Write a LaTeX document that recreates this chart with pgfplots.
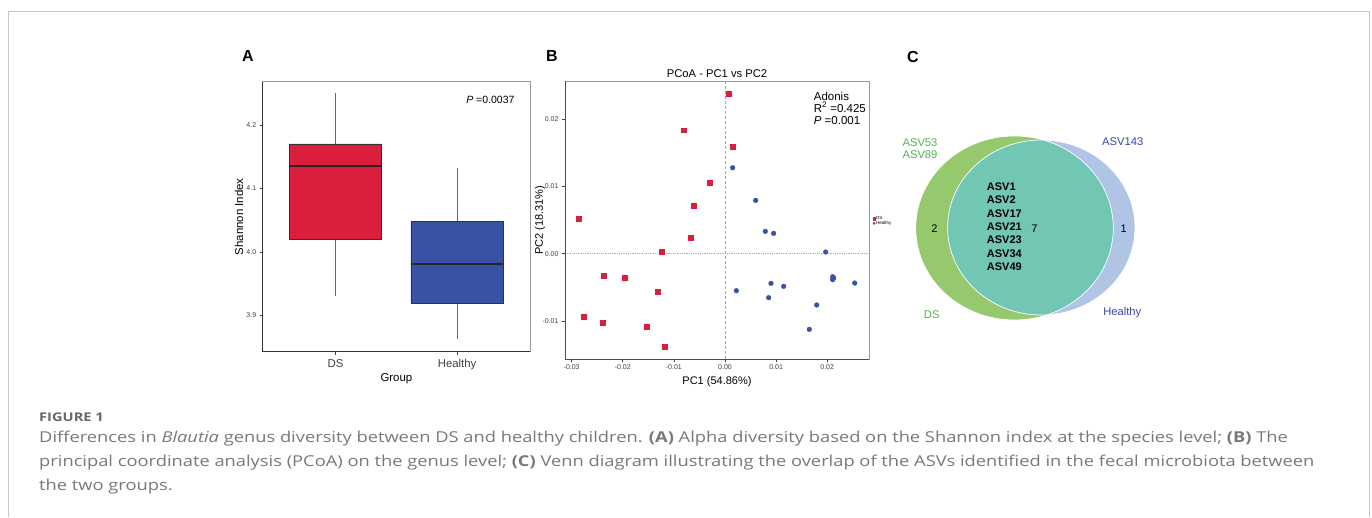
\documentclass[border=0pt]{standalone}
\usepackage{fontspec}
\setmainfont{Liberation Sans}
\newfontfamily\capfont[FakeStretch=1.22]{Open Sans}
\usepackage{pgfplots}
\pgfplotsset{compat=1.18}

\definecolor{dsred}{RGB}{220,30,61}
\definecolor{hblue}{RGB}{56,82,164}
\definecolor{vgreen}{RGB}{150,201,110}
\definecolor{vblue}{RGB}{176,196,230}
\definecolor{vteal}{RGB}{114,198,180}
\definecolor{tgreen}{RGB}{76,184,72}
\definecolor{tblue}{RGB}{55,72,160}
\definecolor{capgray}{RGB}{120,120,120}

\newcommand{\fs}[1]{\fontsize{#1}{#1}\selectfont}

\pgfplotsset{
  panel/.style={
    scale only axis, anchor=south west,
    axis line style={black!40, line width=0.7pt},
    tick align=outside, major tick length=3pt,
    tick style={black!75, line width=0.6pt},
    xtick pos=bottom, ytick pos=left,
    scaled ticks=false,
    /pgf/number format/assume math mode=true,
    ticklabel style={text=black!75},
    clip=false,
  },
  tinymark/.style={legend image code/.code={\draw[##1, mark size=1.2pt] plot coordinates {(0.05cm,0cm)};}},
  whisk/.style={black!60, line width=0.8pt},
  boxs/.style={draw=black!80, line width=0.8pt},
  med/.style={black!85, line width=1.6pt},
}

\begin{document}
\begin{tikzpicture}[x=1pt,y=1pt]
\path[use as bounding box] (0,0) rectangle (1372,517);
\draw[black!22, line width=1pt] (8,0) -- (8,505) -- (1369,505) -- (1369,0);

% panel letters
\node[font=\bfseries\fs{16}] at (248,461) {A};
\node[font=\bfseries\fs{16}] at (552,461) {B};
\node[font=\bfseries\fs{16}] at (913,460) {C};

% ---------- A: Shannon index boxplot
\begin{axis}[panel,
  at={(262.7pt,165.3pt)}, width=267.3pt, height=270pt,
  xmin=0.4, xmax=2.6, ymin=3.843, ymax=4.268,
  xtick={1,2}, xticklabels={DS,Healthy},
  ytick={3.9,4.0,4.1,4.2},
  yticklabel style={font=\fs{7}, /pgf/number format/fixed, /pgf/number format/fixed zerofill, /pgf/number format/precision=1},
  xticklabel style={font=\fs{11.4}, yshift=-1pt},
  xlabel={Group}, ylabel={Shannon Index},
  label style={font=\fs{11.4}},
  xlabel style={at={(axis description cs:0.5,-0.101)}, anchor=center},
  ylabel style={at={(axis description cs:-0.0887,0.5)}, anchor=center},
]
% DS: whiskers, box, median
\addplot[whisk] coordinates {(1,4.17) (1,4.25)};
\addplot[whisk] coordinates {(1,3.931) (1,4.019)};
\addplot[boxs, fill=dsred] coordinates {(0.62,4.019) (1.38,4.019) (1.38,4.17) (0.62,4.17) (0.62,4.019)};
\addplot[med] coordinates {(0.62,4.135) (1.38,4.135)};
% Healthy
\addplot[whisk] coordinates {(2,4.048) (2,4.132)};
\addplot[whisk] coordinates {(2,3.863) (2,3.919)};
\addplot[boxs, fill=hblue] coordinates {(1.62,3.919) (2.38,3.919) (2.38,4.048) (1.62,4.048) (1.62,3.919)};
\addplot[med] coordinates {(1.62,3.981) (2.38,3.981)};
\draw[black!80, line width=0.7pt] (rel axis cs:0,1) -- (rel axis cs:0,0) -- (rel axis cs:1,0);
\node[anchor=east, font=\fs{10.5}] at (rel axis cs:0.955,0.933) {\textit{P} =0.0037};
\end{axis}

% ---------- B: PCoA
\begin{axis}[panel,
  at={(565pt,157.7pt)}, width=304pt, height=278.3pt,
  xmin=-0.0313, xmax=0.02818, ymin=-0.01569, ymax=0.02566,
  xtick={-0.03,-0.02,-0.01,0,0.01,0.02},
  ytick={-0.01,0,0.01,0.02},
  ticklabel style={font=\fs{7}, /pgf/number format/fixed, /pgf/number format/fixed zerofill, /pgf/number format/precision=2},
  xticklabel style={yshift=1pt},
  title={PCoA - PC1 vs PC2},
  every axis title/.style={font=\fs{11.2}, at={(axis description cs:0.5,1.0277)}, anchor=center},
  xlabel={PC1 (54.86\%)}, ylabel={PC2 (18.31\%)},
  label style={font=\fs{11}},
  xlabel style={at={(axis description cs:0.5,-0.0816)}, anchor=center},
  ylabel style={at={(axis description cs:-0.0822,0.5)}, anchor=center},
  legend style={at={(rel axis cs:1.012,0.497)}, anchor=west, draw=none, fill=none,
    font=\fs{4.5}, inner sep=0pt, row sep=-1.5pt, nodes={inner sep=0.8pt}},
  legend cell align=left,
]
\addplot[gray!70, densely dashed, line width=0.5pt, forget plot] coordinates {(0,-0.01569)(0,0.02566)};
\addplot[gray!60, densely dotted, line width=0.8pt, forget plot] coordinates {(-0.0313,0)(0.02818,0)};
\addplot[only marks, mark=square*, mark size=2.4pt, color=dsred, mark options={draw=dsred, line width=0.3pt}, tinymark]
coordinates {
 (0.00065,0.02376) (-0.00802,0.01837) (0.00157,0.01594) (-0.0030,0.01054)
 (-0.00613,0.00713) (-0.02864,0.00515) (-0.00672,0.00233) (-0.01239,0.00025)
 (-0.02381,-0.00322) (-0.01957,-0.00356) (-0.01311,-0.00559) (-0.02759,-0.00941)
 (-0.02387,-0.0102) (-0.01526,-0.01079) (-0.01181,-0.01376)
};
\addlegendentry{DS}
\addplot[only marks, mark=*, mark size=2.4pt, color=hblue, mark options={draw=hblue, line width=0.3pt}, tinymark]
coordinates {
 (0.0015,0.01277) (0.0060,0.00792) (0.00789,0.00332) (0.00952,0.00302)
 (0.0197,0.00025) (0.00222,-0.0055) (0.009,-0.00441) (0.01148,-0.00485)
 (0.00855,-0.00653) (0.02107,-0.00342) (0.02127,-0.00361) (0.02107,-0.00386)
 (0.02538,-0.00436) (0.01794,-0.00762) (0.0165,-0.01124)
};
\addlegendentry{Healthy}
\draw[black!70, line width=0.7pt] (rel axis cs:0,1) -- (rel axis cs:0,0) -- (rel axis cs:1,0);
\node[anchor=north west, align=left, font=\fs{11.5}, inner sep=0pt] at (rel axis cs:0.818,0.962)
 {Adonis\\[0.6pt]R\textsuperscript{2} =0.425\\[0.6pt]\textit{P} =0.001};
\end{axis}

% ---------- C: Venn diagram
\begin{axis}[hide axis, scale only axis, anchor=south west,
  at={(880pt,157pt)}, width=280pt, height=280pt,
  xmin=880, xmax=1160, ymin=157, ymax=437]
\fill[vgreen] (axis cs:1014.5,289) ellipse [x radius=98.8, y radius=92];
\fill[vblue] (axis cs:1041.3,289.5) ellipse [x radius=93.7, y radius=87.5];
\begin{scope}
\clip (axis cs:1014.5,289) ellipse [x radius=98.8, y radius=92];
\fill[vteal] (axis cs:1041.3,289.5) ellipse [x radius=93.7, y radius=87.5];
\end{scope}
\draw[white, line width=0.7pt] (axis cs:1014.5,289) ellipse [x radius=98.8, y radius=92];
\draw[white, line width=0.7pt] (axis cs:1041.3,289.5) ellipse [x radius=93.7, y radius=87.5];
\end{axis}
\node[text=tgreen, font=\fs{11.2}, align=center] at (920,368.6) {ASV53\\[0.5pt]ASV89};
\node[text=tblue, font=\fs{11.2}] at (1122.7,375.3) {ASV143};
\node[font=\fs{11}] at (934.3,288.7) {2};
\node[font=\fs{11}] at (1034.3,288.7) {7};
\node[font=\fs{11}] at (1123.7,288.7) {1};
\node[anchor=west, align=left, font=\bfseries\fs{11}, inner sep=0pt] at (986.7,290.3)
 {ASV1\\[2.3pt]ASV2\\[2.3pt]ASV17\\[2.3pt]ASV21\\[2.3pt]ASV23\\[2.3pt]ASV34\\[2.3pt]ASV49};
\node[text=tgreen, font=\fs{11.2}] at (931.7,202) {DS};
\node[text=tblue, font=\fs{11.2}] at (1122.3,204.3) {Healthy};

% ---------- caption
\node[anchor=base west, inner sep=0pt, text=capgray!85!black, font=\capfont\bfseries\fs{12}] at (39,96) {FIGURE 1};
\node[anchor=base west, inner sep=0pt, text=capgray, font=\capfont\fs{15}] at (39,75)
 {Differences in \textit{Blautia} genus diversity between DS and healthy children. \textbf{(A)} Alpha diversity based on the Shannon index at the species level; \textbf{(B)} The};
\node[anchor=base west, inner sep=0pt, text=capgray, font=\capfont\fs{15}] at (39,51)
 {principal coordinate analysis (PCoA) on the genus level; \textbf{(C)} Venn diagram illustrating the overlap of the ASVs identified in the fecal microbiota between};
\node[anchor=base west, inner sep=0pt, text=capgray, font=\capfont\fs{15}] at (39,27)
 {the two groups.};
\end{tikzpicture}
\end{document}
